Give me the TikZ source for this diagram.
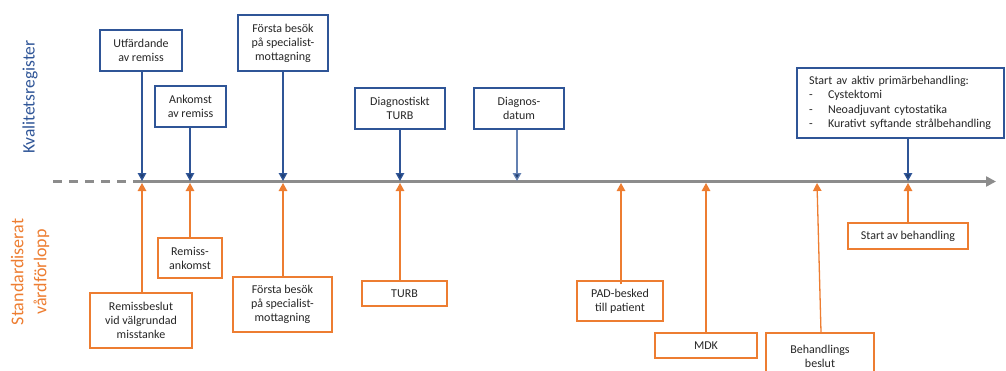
\documentclass[tikz,border=0pt]{standalone}
\usepackage{fontspec}
\setmainfont{Carlito}
\usetikzlibrary{arrows.meta}
\definecolor{blu}{HTML}{2F5597}
\definecolor{bluarr}{HTML}{1F3F73}
\definecolor{ora}{HTML}{ED7D31}
\definecolor{txt}{HTML}{262626}
\definecolor{tl}{HTML}{8C8C8C}
\begin{document}
\begin{tikzpicture}[x=1pt,y=-1pt,
  box/.style={draw, line width=1.3pt, fill=white, inner sep=0pt, align=center, text=txt,
    font=\fontsize{12}{14}\selectfont},
  topbox/.style={box, draw=blu},
  botbox/.style={box, draw=ora},
  toparr/.style={draw=blu, line width=1.3pt, -{Triangle[width=8.5pt,length=8pt,fill=bluarr]}},
  botarr/.style={draw=ora, line width=1.3pt, -{Triangle[width=8.5pt,length=8pt,fill=ora]}},
]
\useasboundingbox (0,0) rectangle (1006,370);
\clip (0,0) rectangle (1006,370);

% timeline
\coordinate (tl0) at (53,181.5);
\coordinate (tl1) at (134,181.5);
\coordinate (tl2) at (996,181.5);
\draw[tl, line width=2.4pt, dash pattern=on 9pt off 7pt] (tl0) -- (tl1);
\draw[tl, line width=2.4pt, -{Triangle[width=10pt,length=10pt]}] (tl1) -- (tl2);

% event points (top = blue tips, bottom = orange tips)
\foreach \n/\x in {1/142,2/190,3/283,4/400,5/517,6/908}
  \coordinate (u\n) at (\x,181);
\foreach \n/\x in {1/142,2/190,3/283,4/400,5/621,6/706,7/817,8/908}
  \coordinate (d\n) at (\x,183);

% side labels
\node[rotate=90, text=blu, font=\fontsize{17.5}{20}\selectfont] (kv) at (30,97) {Kvalitetsregister};
\node[rotate=90, text=ora, font=\fontsize{18}{23}\selectfont, align=center] (svf) at (30,272) {Standardiserat\\vårdförlopp};

% top boxes
\node[topbox, minimum width=82pt, minimum height=41pt] (t1) at (141,50.5) {Utfärdande\\av remiss};
\node[topbox, minimum width=71pt, minimum height=41pt] (t2) at (190.5,106.5) {Ankomst\\av remiss};
\node[topbox, minimum width=90pt, minimum height=56pt] (t3) at (283,43) {Första besök\\på specialist-\\mottagning};
\node[topbox, minimum width=90pt, minimum height=41pt] (t4) at (400,108.5) {Diagnostiskt\\TURB};
\node[topbox, minimum width=90pt, minimum height=41pt] (t5) at (519,108.5) {Diagnos-\\datum};
\node[topbox, minimum height=70pt, inner xsep=12pt, text width=183pt, align=left,
      font=\fontsize{12}{14.5}\selectfont] (t6) at (900.5,103)
  {Start av aktiv primärbehandling:\\
   \makebox[19pt][l]{-}Cystektomi\\
   \makebox[19pt][l]{-}Neoadjuvant cytostatika\\
   \makebox[19pt][l]{-}Kurativt syftande strålbehandling};

\draw[toparr] (t1.south -| u1) -- (u1);
\draw[toparr] (t2.south -| u2) -- (u2);
\draw[toparr] (t3.south -| u3) -- (u3);
\draw[toparr] (t4.south -| u4) -- (u4);
\draw[toparr, draw=blu!75] (t5.south -| u5) -- (u5);
\draw[toparr] (t6.south -| u6) -- (u6);

% bottom boxes
\node[botbox, minimum width=102pt, minimum height=55pt] (b1) at (141,320.5) {Remissbeslut\\vid välgrundad\\misstanke};
\node[botbox, minimum width=64pt, minimum height=40pt] (b2) at (190,258) {Remiss-\\ankomst};
\node[botbox, minimum width=99pt, minimum height=55pt] (b3) at (282.5,304.5) {Första besök\\på specialist-\\mottagning};
\node[botbox, minimum width=85pt, minimum height=25pt] (b4) at (404.5,293.5) {TURB};
\node[botbox, minimum width=86pt, minimum height=40pt] (b5) at (620,301) {PAD-besked\\till patient};
\node[botbox, minimum width=102pt, minimum height=25pt] (b6) at (706,345.5) {MDK};
\node[botbox, minimum width=108pt, minimum height=46pt] (b7) at (820,356) {Behandlings\\beslut};
\node[botbox, minimum width=120pt, minimum height=26pt] (b8) at (908,236) {Start av behandling};

\draw[botarr] (b1.north -| d1) -- (d1);
\draw[botarr] (b2.north -| d2) -- (d2);
\draw[botarr] (b3.north -| d3) -- (d3);
\draw[botarr] (b4.north -| d4) -- (d4);
\draw[botarr] ([yshift=-4pt]b5.north -| d5) -- (d5);
\draw[botarr] (b6.north -| d6) -- (d6);
\draw[botarr] (b7.north) ++(1,0) coordinate (b7n) (b7n) -- (d7);
\draw[botarr] (b8.north -| d8) -- (d8);
\end{tikzpicture}
\end{document}
